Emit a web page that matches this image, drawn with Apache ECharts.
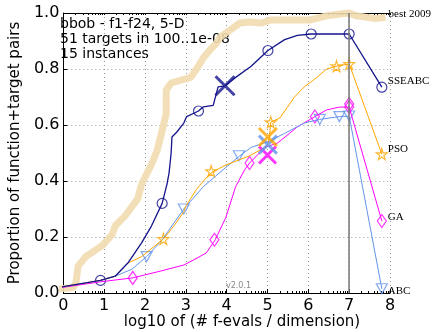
<!DOCTYPE html>
<html>
<head>
<meta charset="utf-8">
<script src="https://cdn.jsdelivr.net/npm/echarts@6/dist/echarts.min.js"></script>
<style>
  html, body { margin: 0; padding: 0; background: #fff; }
  #chart { width: 432px; height: 332px; }
</style>
</head>
<body>
<div id="chart"></div>
<script>
// x = log10(#f-evals / dimension), y = proportion of function+target pairs
const best2009 = [[-0.72,0.004],[0.24,0.02],[0.31,0.036],[0.36,0.096],[0.55,0.13],[0.96,0.17],[1.20,0.21],[1.27,0.24],[1.51,0.275],[1.82,0.336],[1.92,0.39],[2.16,0.46],[2.30,0.51],[2.42,0.58],[2.52,0.64],[2.52,0.725],[2.64,0.75],[3.12,0.77],[3.26,0.80],[3.43,0.84],[3.60,0.87],[3.74,0.89],[3.84,0.914],[4.15,0.946],[4.32,0.964],[4.56,0.968],[4.84,0.964],[5.08,0.975],[6.04,0.975],[6.45,0.99],[7.0,1.0],[7.17,0.99],[7.65,0.98],[7.89,0.985]];

const sseabc = [[-0.72,0.005],[0.91,0.045],[1.27,0.06],[1.58,0.107],[1.92,0.18],[2.16,0.24],[2.42,0.32],[2.54,0.39],[2.59,0.43],[2.64,0.50],[2.66,0.557],[2.78,0.575],[2.95,0.607],[3.02,0.63],[3.31,0.65],[3.43,0.665],[3.67,0.67],[3.79,0.736],[3.96,0.74],[4.22,0.77],[4.6,0.81],[5.01,0.866],[5.42,0.905],[5.73,0.92],[6.07,0.925],[7.0,0.925],[7.8,0.735]];
const sseabcMarks = [[0.91,0.045],[2.42,0.32],[3.31,0.65],[5.01,0.866],[6.07,0.925],[7.0,0.925],[7.8,0.735]];

const pso = [[-0.72,0.005],[0.91,0.045],[1.27,0.06],[1.58,0.107],[1.92,0.13],[2.45,0.193],[2.71,0.24],[2.95,0.29],[3.0,0.31],[3.26,0.37],[3.43,0.40],[3.62,0.43],[3.98,0.457],[4.56,0.49],[4.94,0.52],[5.01,0.53],[5.05,0.56],[5.08,0.61],[5.3,0.625],[5.49,0.664],[5.66,0.70],[5.9,0.736],[6.21,0.77],[6.45,0.80],[6.69,0.81],[7.0,0.818],[7.8,0.496]];
const psoMarks = [[2.45,0.193],[3.62,0.435],[5.08,0.61],[6.69,0.81],[7.0,0.818],[7.8,0.496]];

const abc = [[-0.72,0.005],[0.91,0.045],[1.27,0.06],[1.68,0.085],[2.04,0.13],[2.40,0.186],[2.95,0.30],[3.43,0.38],[3.91,0.44],[4.32,0.49],[4.6,0.52],[5.0,0.54],[5.42,0.57],[5.9,0.607],[6.28,0.62],[6.76,0.63],[7.0,0.632],[7.8,0.015]];
const abcMarks = [[2.04,0.13],[2.95,0.30],[4.30,0.49],[6.28,0.62],[6.76,0.63],[7.0,0.632],[7.8,0.015]];

const ga = [[-0.72,0.005],[0.91,0.04],[1.70,0.054],[2.40,0.079],[2.95,0.10],[3.19,0.118],[3.5,0.143],[3.72,0.19],[3.98,0.27],[4.22,0.38],[4.44,0.44],[4.56,0.464],[4.8,0.50],[4.94,0.52],[5.25,0.536],[5.73,0.593],[6.16,0.63],[6.45,0.654],[6.76,0.664],[7.0,0.664],[7.8,0.257]];
const gaMarks = [[1.70,0.054],[3.70,0.19],[4.56,0.464],[6.16,0.63],[7.0,0.664],[7.0,0.675],[7.8,0.257]];

// big crosses (one per algorithm)
const crossSseabc = [[3.96,0.74]];
const crossPso = [[5.01,0.557]];
const crossAbc = [[5.01,0.53]];
const crossGa = [[5.0,0.493]];

const xTicks = [0, 1, 2, 3, 4, 5, 6, 7, 8];
const yTicks = [0, 0.2, 0.4, 0.6, 0.8, 1.0];
const maxEvalsLine = 7;

// log-spaced minor ticks between decades
const minorTicks = [];
for (let d = 0; d < 8; d++) {
    for (let k = 2; k <= 9; k++) minorTicks.push(d + Math.log10(k));
}

const C_BEST = '#f2dcaf', C_SSE = '#14148c', C_PSO = '#ffa500', C_ABC = '#6495ed', C_GA = '#ff00ff';
const SANS = 'DejaVu Sans', SERIF = 'Liberation Serif';

const STAR = 'path://M50,0 L61,35 L98,35 L68,57 L79,91 L50,70 L21,91 L32,57 L2,35 L39,35 Z';
const TRI_DOWN = 'path://M0,0 L10,0 L5,9 Z';
const CROSS = 'path://M0,0 L10,10 M10,0 L0,10';

function curve(name, data, color, width, labelOffset, extra) {
    return Object.assign({
        name: name,
        type: 'line',
        data: data,
        symbol: 'none',
        clip: false,
        silent: true,
        lineStyle: { color: color, width: width },
        endLabel: {
            show: true,
            formatter: name,
            distance: 6,
            offset: labelOffset,
            fontFamily: SERIF,
            fontSize: 11,
            color: '#000'
        }
    }, extra || {});
}

function marks(data, color, symbol, size) {
    return {
        type: 'scatter',
        data: data,
        symbol: symbol,
        symbolSize: size,
        silent: true,
        itemStyle: { color: 'transparent', borderColor: color, borderWidth: 1.2 }
    };
}

function cross(data, color, size) {
    return {
        type: 'scatter',
        data: data,
        symbol: CROSS,
        symbolSize: size,
        silent: true,
        z: 5,
        itemStyle: { color: 'transparent', borderColor: color, borderWidth: 3 }
    };
}

const option = {
    animation: false,
    backgroundColor: '#fff',
    grid: { left: 57, right: 42, top: 13, bottom: 39 },
    xAxis: [
        {
            type: 'value', min: 0, max: 8, interval: 1,
            axisLine: { show: true, lineStyle: { color: '#000', width: 1 } },
            axisTick: { show: true, inside: true, length: 4, lineStyle: { color: '#000' } },
            axisLabel: { color: '#000', fontFamily: SANS, fontSize: 16, margin: 5,
                formatter: v => xTicks.includes(v) ? String(v) : '' },
            splitLine: { show: true, lineStyle: { color: '#999', type: [1, 3], width: 1 } }
        },
        {
            type: 'value', min: 0, max: 8, position: 'bottom',
            axisLine: { show: false },
            axisTick: { show: true, inside: true, length: 2, customValues: minorTicks, lineStyle: { color: '#000' } },
            axisLabel: { show: false },
            splitLine: { show: false }
        },
        {
            type: 'value', min: 0, max: 8, position: 'top',
            axisLine: { show: true, lineStyle: { color: '#000', width: 1 } },
            axisTick: { show: true, inside: true, length: 2, customValues: xTicks.concat(minorTicks), lineStyle: { color: '#000' } },
            axisLabel: { show: false },
            splitLine: { show: false }
        }
    ],
    yAxis: {
        type: 'value', min: 0, max: 1, interval: 0.2,
        name: 'Proportion of function+target pairs',
        nameLocation: 'middle',
        nameGap: 32,
        nameTextStyle: { color: '#000', fontFamily: SANS, fontSize: 15 },
        axisLine: { show: true, lineStyle: { color: '#000', width: 1 } },
        axisTick: { show: true, inside: true, length: 4, lineStyle: { color: '#000' } },
        axisLabel: { color: '#000', fontFamily: SANS, fontSize: 16, margin: 4,
            formatter: v => v.toFixed(1) },
        splitLine: { show: true, lineStyle: { color: '#999', type: [1, 3], width: 1 } }
    },
    graphic: [
        {
            type: 'text', left: 60, top: 17,
            style: {
                text: 'bbob - f1-f24, 5-D\n51 targets in 100..1e-08\n15 instances',
                font: '14px "DejaVu Sans"', lineHeight: 15, fill: '#000'
            }
        },
        {
            type: 'text', left: 226, top: 282,
            style: { text: 'v2.0.1', font: '8px "DejaVu Sans"', fill: '#888' }
        },
        {
            type: 'text', x: 242, y: 315,
            style: { text: 'log10 of (# f-evals / dimension)', font: '15px "DejaVu Sans"', fill: '#000',
                align: 'center', verticalAlign: 'top' }
        }
    ],
    series: [
        curve('best 2009', best2009, C_BEST, 7, [0, -3], {
            lineStyle: { color: C_BEST, width: 7, opacity: 0.9 },
            endLabel: { show: true, formatter: 'best 2009', distance: 3, offset: [0, -3],
                fontFamily: SERIF, fontSize: 11, color: '#000' },
            markLine: {
                silent: true, symbol: 'none', label: { show: false },
                lineStyle: { color: '#777', type: 'solid', width: 1.5 },
                data: [{ xAxis: maxEvalsLine }]
            }
        }),
        curve('GA', ga, C_GA, 1, [0, -4]),
        curve('ABC', abc, C_ABC, 1, [0, 2]),
        curve('PSO', pso, C_PSO, 1, [0, -5]),
        curve('SSEABC', sseabc, C_SSE, 1.3, [0, -6]),
        marks(gaMarks, C_GA, 'diamond', [9, 13]),
        marks(abcMarks, C_ABC, TRI_DOWN, [11, 10]),
        marks(psoMarks, C_PSO, STAR, 11),
        marks(sseabcMarks, C_SSE, 'circle', 10),
        cross(crossGa, C_GA, 17),
        cross(crossAbc, C_ABC, 18),
        cross(crossPso, C_PSO, 18),
        cross(crossSseabc, C_SSE, 19)
    ]
};

const chart = echarts.init(document.getElementById('chart'));
chart.setOption(option);
</script>
</body>
</html>
